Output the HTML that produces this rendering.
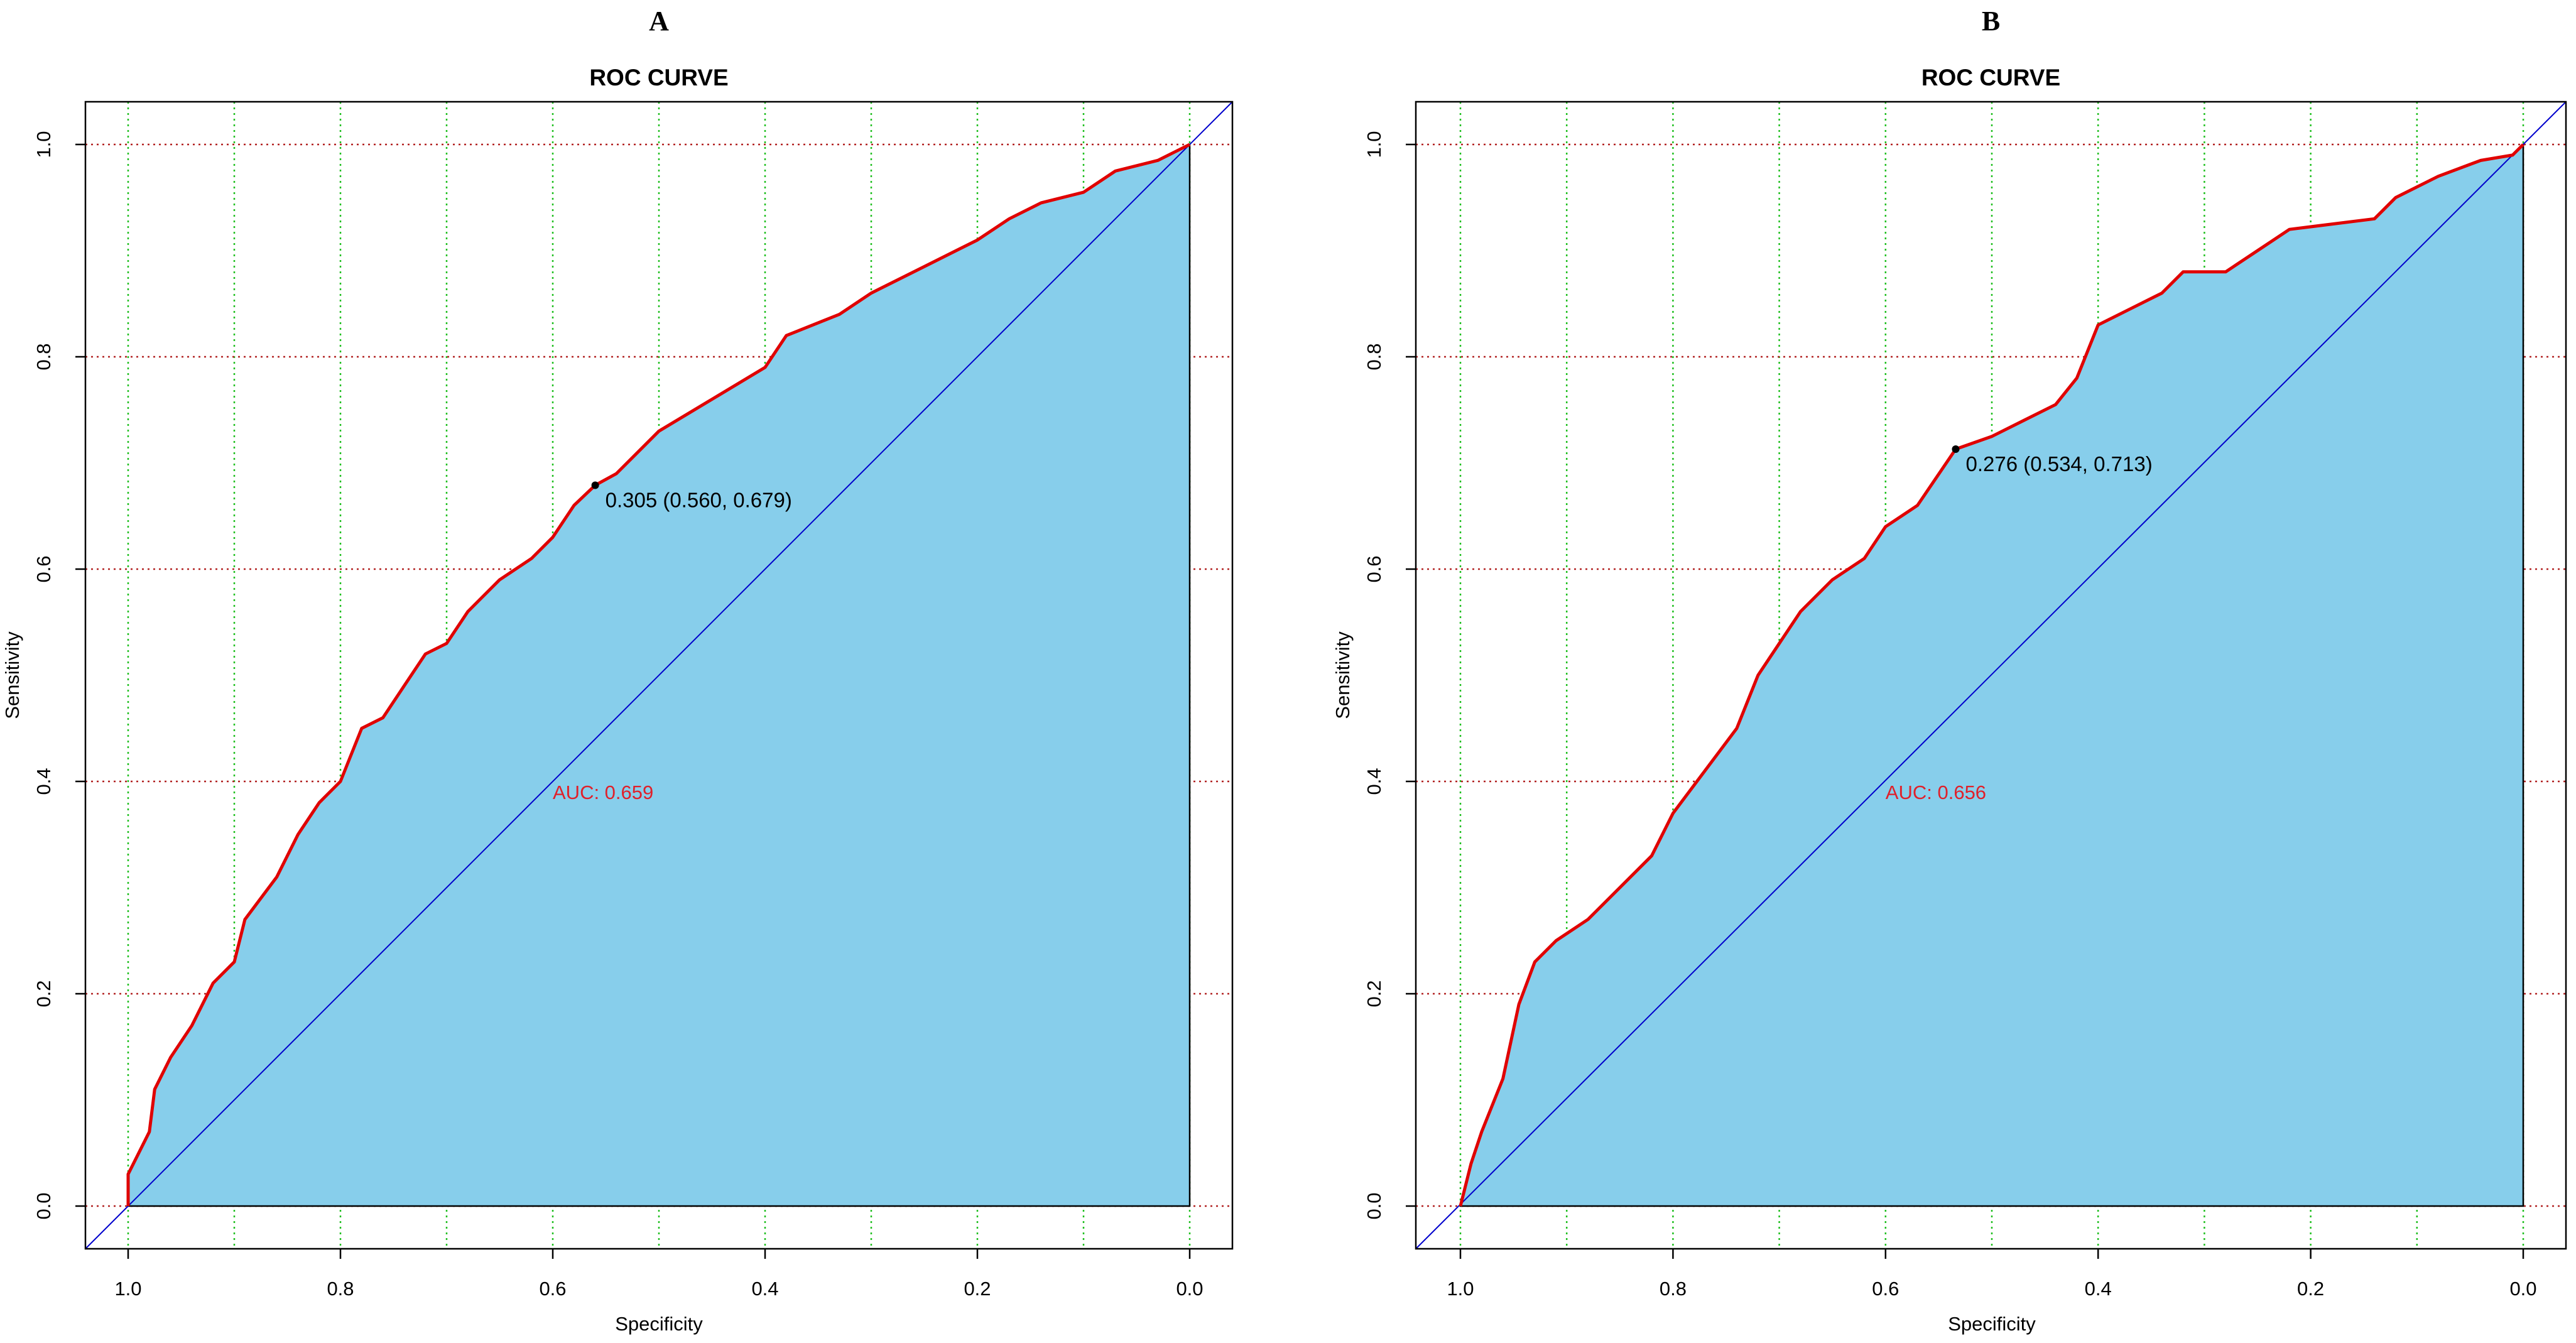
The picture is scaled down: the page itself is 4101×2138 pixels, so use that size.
<!DOCTYPE html>
<html><head><meta charset="utf-8"><style>
html,body{margin:0;padding:0;background:#fff;}
svg{display:block;font-family:"Liberation Sans",Arial,sans-serif;}
</style></head><body>
<svg id="chart" width="4101" height="2138" viewBox="0 0 4101 2138" xmlns="http://www.w3.org/2000/svg"></svg>
<script>
const xTicks = [1.0, 0.8, 0.6, 0.4, 0.2, 0.0];
const xTickLabels = ["1.0","0.8","0.6","0.4","0.2","0.0"];
const yTicks = [0.0, 0.2, 0.4, 0.6, 0.8, 1.0];
const yTickLabels = ["0.0","0.2","0.4","0.6","0.8","1.0"];
const vGrid = [1.0,0.9,0.8,0.7,0.6,0.5,0.4,0.3,0.2,0.1,0.0];
const hGrid = [0.0,0.2,0.4,0.6,0.8,1.0];

const specA = [1.0,1.0,0.99,0.98,0.975,0.96,0.94,0.92,0.90,0.89,0.86,0.84,0.82,0.80,0.78,0.76,0.74,0.72,0.70,0.68,0.65,0.62,0.60,0.58,0.56,0.54,0.50,0.45,0.40,0.38,0.33,0.30,0.25,0.20,0.17,0.14,0.10,0.07,0.03,0.01,0.0];
const sensA = [0.0,0.03,0.05,0.07,0.11,0.14,0.17,0.21,0.23,0.27,0.31,0.35,0.38,0.40,0.45,0.46,0.49,0.52,0.53,0.56,0.59,0.61,0.63,0.66,0.679,0.69,0.73,0.76,0.79,0.82,0.84,0.86,0.885,0.91,0.93,0.945,0.955,0.975,0.985,0.995,1.0];
const specB = [1.0,0.99,0.98,0.96,0.945,0.93,0.91,0.88,0.85,0.82,0.80,0.77,0.74,0.72,0.70,0.68,0.65,0.62,0.60,0.57,0.534,0.50,0.47,0.44,0.42,0.40,0.37,0.34,0.32,0.28,0.25,0.22,0.18,0.14,0.12,0.08,0.04,0.01,0.0];
const sensB = [0.0,0.04,0.07,0.12,0.19,0.23,0.25,0.27,0.30,0.33,0.37,0.41,0.45,0.50,0.53,0.56,0.59,0.61,0.64,0.66,0.713,0.725,0.74,0.755,0.78,0.83,0.845,0.86,0.88,0.88,0.90,0.92,0.925,0.93,0.95,0.97,0.985,0.99,1.0];
const panelLabels = ["A","B"];
const aucLabels = ["AUC: 0.659","AUC: 0.656"];
const bestSpec = [0.560, 0.534];
const bestSens = [0.679, 0.713];
const bestLabels = ["0.305 (0.560, 0.679)","0.276 (0.534, 0.713)"];

const NS = "http://www.w3.org/2000/svg";
const svg = document.getElementById("chart");
function mk(tag, attrs, parent){
  const e = document.createElementNS(NS, tag);
  for (const k in attrs) e.setAttribute(k, attrs[k]);
  (parent||svg).appendChild(e);
  return e;
}
const panels = [
  {box:[136,162,1962,1988], x1:204, x0:1894, y0:1920, y1:230, spec:specA, sens:sensA},
  {box:[2254,162,4085,1988], x1:2325, x0:4017, y0:1920, y1:230, spec:specB, sens:sensB}
];
panels.forEach((p, i) => {
  const g = mk("g", {});
  
  
  const X = s => p.x1 + (1 - s) * (p.x0 - p.x1);
  const Y = v => p.y0 - v * (p.y0 - p.y1);
  const [L,T,R,B] = p.box;
  const cx = (L+R)/2;
  const pl = mk("text", {x:cx, y:48, "text-anchor":"middle", "font-family":"Liberation Serif, serif", "font-weight":"bold", "font-size":44}, g);
  pl.textContent = panelLabels[i];
  
  
  const tt = mk("text", {x:cx, y:136, "text-anchor":"middle", "font-weight":"bold", "font-size":37}, g);
  tt.textContent = "ROC CURVE";
  
  
  // grids (drawn beneath the fill)
  vGrid.forEach(v => {
    const l = mk("line", {x1:X(v), x2:X(v), y1:T, y2:B, stroke:"#22c022", "stroke-width":2.5, "stroke-dasharray":"3,6"}, g);
    
    
  });
  hGrid.forEach(v => {
    const l = mk("line", {x1:L, x2:R, y1:Y(v), y2:Y(v), stroke:"#b22222", "stroke-width":2.5, "stroke-dasharray":"3,6"}, g);
    
    
  });
  // fill polygon
  let pts = p.spec.map((s,k)=>X(s)+","+Y(p.sens[k])).join(" ");
  pts += " " + X(0) + "," + Y(0);
  const poly = mk("polygon", {points:pts, fill:"#87CEEB", stroke:"#000", "stroke-width":2.5}, g);
  
  
  const diag = mk("line", {x1:L, y1:B, x2:R, y2:T, stroke:"#0000cc", "stroke-width":2}, g);
  
  
  const curve = mk("polyline", {points:p.spec.map((s,k)=>X(s)+","+Y(p.sens[k])).join(" "), fill:"none", stroke:"#e00000", "stroke-width":5, "stroke-linejoin":"round"}, g);
  
  
  const box = mk("rect", {x:L, y:T, width:R-L, height:B-T, fill:"none", stroke:"#000", "stroke-width":2.5}, g);
  
  
  xTicks.forEach((v,k) => {
    const tl = mk("line", {x1:X(v), x2:X(v), y1:B, y2:B+16, stroke:"#000", "stroke-width":2.5}, g);
    
    
    const t = mk("text", {x:X(v), y:2062, "text-anchor":"middle", "font-size":31}, g);
    t.textContent = xTickLabels[k];
    
    
  });
  yTicks.forEach((v,k) => {
    const tl = mk("line", {x1:L-16, x2:L, y1:Y(v), y2:Y(v), stroke:"#000", "stroke-width":2.5}, g);
    
    
    const t = mk("text", {x:0, y:0, "text-anchor":"middle", "font-size":31, transform:`translate(${L-56},${Y(v)}) rotate(-90)`}, g);
    t.textContent = yTickLabels[k];
    
    
  });
  const xl = mk("text", {x:X(0.5), y:2118, "text-anchor":"middle", "font-size":31}, g);
  xl.textContent = "Specificity";
  
  
  const yl = mk("text", {x:0, y:0, "text-anchor":"middle", "font-size":31, transform:`translate(${L-106},${Y(0.5)}) rotate(-90)`}, g);
  yl.textContent = "Sensitivity";
  
  
  const auc = mk("text", {x:X(0.6), y:Y(0.39)+11, "font-size":31, fill:"#e0202a"}, g);
  auc.textContent = aucLabels[i];
  
  
  const dot = mk("circle", {cx:X(bestSpec[i]), cy:Y(bestSens[i]), r:6, fill:"#000"}, g);
  
  
  const bt = mk("text", {x:X(bestSpec[i])+16, y:Y(bestSens[i])+35, "font-size":33, fill:"#000"}, g);
  bt.textContent = bestLabels[i];
  
  
});
</script>
</body></html>
